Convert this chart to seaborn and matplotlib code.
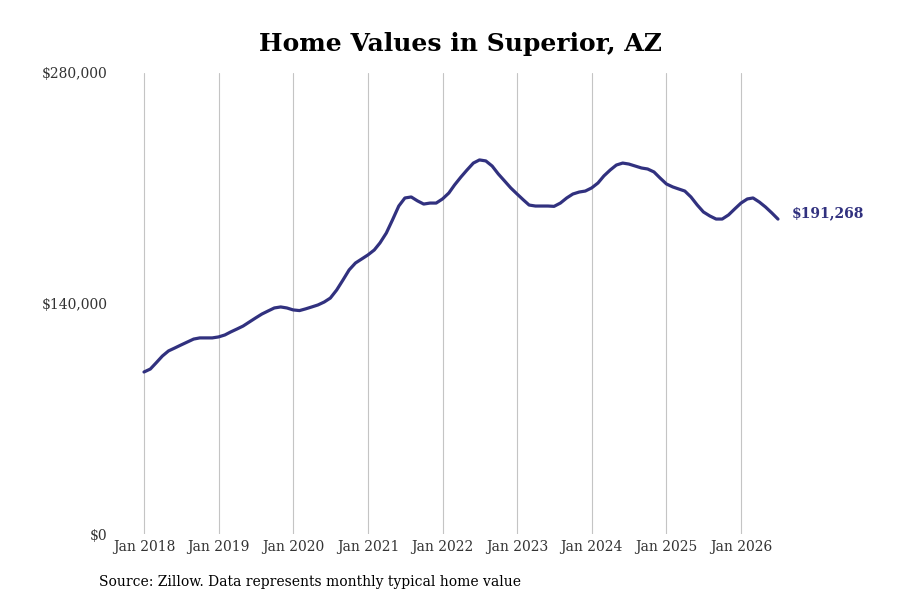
import numpy as np
import pandas as pd
import matplotlib
matplotlib.use("Agg")
import matplotlib.pyplot as plt
import matplotlib.dates as mdates
import matplotlib.ticker as mticker
import seaborn as sns

# monthly typical home value, Jan 2018 - Jul 2026
months = pd.date_range("2018-01-01", "2026-07-01", freq="MS")
values = [
    98400, 100200, 103900, 108100, 111200, 113000, 114800, 116600, 118400, 119100, 119100, 119100,
    119700, 120900, 122700, 124500, 126300, 128800, 131200, 133600, 135500, 137300, 137900, 137300,
    136100, 135700, 136700, 137900, 139100, 140900, 143300, 148200, 154300, 160400, 164600, 167000,
    169500, 172500, 176800, 182800, 190700, 199200, 204100, 204700, 202300, 200400, 201000, 201000,
    203500, 207100, 212000, 216800, 221100, 225300, 227200, 226600, 223500, 218700, 214400, 210200,
    206500, 202900, 199800, 199200, 199200, 199200, 199000, 201000, 204100, 206500, 207700, 208300,
    210200, 213200, 217500, 221100, 224100, 225300, 224700, 223500, 222300, 221700, 219900, 216200,
    212600, 210800, 209600, 208300, 204700, 199800, 195600, 193200, 191300, 191300, 193800, 197400,
    201000, 203500, 204100, 201600, 198600, 195000, 191268,
]
y_ticks = [0, 140000, 280000]
title = "Home Values in Superior, AZ"
source = "Source: Zillow. Data represents monthly typical home value"

line_color = "#31317f"

df = pd.DataFrame({"month": months, "value": values})

sns.set_style("white")
plt.rcParams["font.family"] = ["DejaVu Serif"]

fig = plt.figure(figsize=(9, 6), dpi=100)
ax = fig.add_axes([120 / 900, 66 / 600, 670 / 900, 461 / 600])

sns.lineplot(data=df, x="month", y="value", color=line_color, linewidth=2.3, ax=ax)

# x range: Jan 2018 sits at 144px, Jan 2026 at 741px
jan18 = mdates.date2num(pd.Timestamp("2018-01-01"))
jan26 = mdates.date2num(pd.Timestamp("2026-01-01"))
per_px = (jan26 - jan18) / (741 - 144)
ax.set_xlim(jan18 - 24 * per_px, jan18 + (790 - 144) * per_px)
ax.set_ylim(0, 280000)

ax.xaxis.set_major_locator(mdates.YearLocator())
ax.xaxis.set_major_formatter(mdates.DateFormatter("%b %Y"))
ax.set_yticks(y_ticks)
ax.yaxis.set_major_formatter(mticker.FuncFormatter(lambda v, p: f"${v:,.0f}"))

ax.grid(axis="x", color="#c4c4c4", linewidth=0.8)
ax.grid(axis="y", visible=False)
for s in ax.spines.values():
    s.set_visible(False)
ax.tick_params(axis="both", length=0, labelsize=10, colors="#333333")
ax.tick_params(axis="y", pad=9)
ax.tick_params(axis="x", pad=4)
ax.set_xlabel("")
ax.set_ylabel("")

ax.annotate(f"${values[-1]:,}", xy=(df["month"].iloc[-1], values[-1]),
            xytext=(10, 4), textcoords="offset points", va="center", ha="left",
            fontsize=10, fontweight="bold", color=line_color)

fig.text(0.512, 0.927, title, ha="center", va="center", fontsize=18,
         fontweight="bold", color="black")
fig.text(99 / 900, 1 - 582 / 600, source, ha="left", va="center", fontsize=10, color="black")

fig.savefig("out.png", dpi=100)
